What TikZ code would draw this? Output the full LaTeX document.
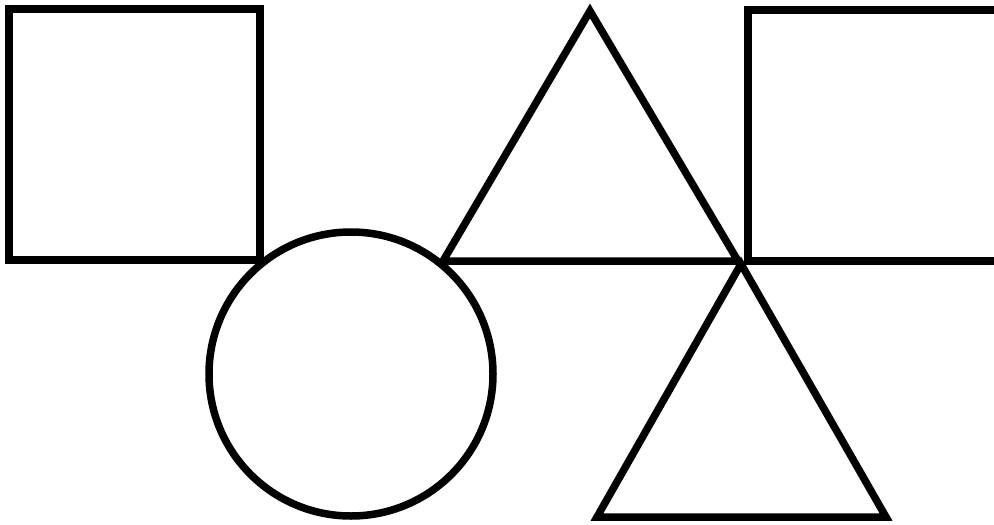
\documentclass[tikz,border=0pt]{standalone}
\begin{document}
\begin{tikzpicture}[x=1pt,y=-1pt,outl/.style={draw=black,line width=7.5pt,line join=miter}]
\useasboundingbox (0,0) rectangle (994,525);
\clip (0,0) rectangle (994,525);
\fill[white] (0,0) rectangle (994,525);
% left square
\draw[outl] (9,9) rectangle (260,260);
% circle
\draw[outl] (351,374) circle[radius=142];
% upper triangle
\draw[outl] (443,261) -- (590,11) -- (738,261) -- cycle;
% right square (cut off)
\draw[outl] (748,10) rectangle (1000,261);
% lower triangle
\draw[outl] (597,517) -- (741,264) -- (886,517) -- cycle;
\end{tikzpicture}
\end{document}
